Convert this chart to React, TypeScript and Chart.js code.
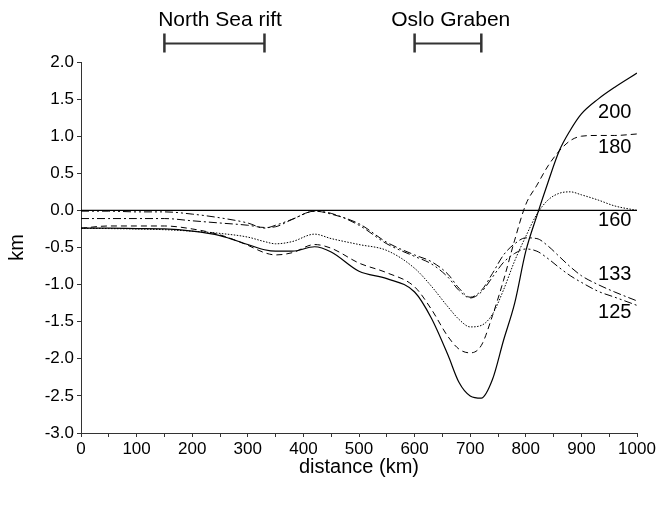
import React, { useEffect, useRef } from "react";
import { Chart, registerables } from "chart.js";

Chart.register(...registerables);

const distanceKm = [0, 50, 100, 150, 200, 250, 300, 330, 350, 380, 420, 450, 500, 550, 600, 630, 660, 680, 700, 720, 740, 760, 780, 800, 820, 840, 860, 880, 900, 930, 960, 1000];

const s200 = [-0.24, -0.24, -0.245, -0.25, -0.28, -0.34, -0.46, -0.53, -0.55, -0.55, -0.49, -0.56, -0.82, -0.92, -1.1, -1.45, -1.95, -2.32, -2.5, -2.53, -2.28, -1.75, -1.25, -0.55, -0.07, 0.38, 0.8, 1.08, 1.3, 1.5, 1.66, 1.85];
const s180 = [-0.24, -0.21, -0.21, -0.21, -0.25, -0.33, -0.47, -0.57, -0.6, -0.57, -0.46, -0.51, -0.71, -0.84, -1.03, -1.33, -1.7, -1.87, -1.92, -1.82, -1.42, -0.94, -0.4, 0.08, 0.34, 0.6, 0.8, 0.94, 1.0, 1.01, 1.01, 1.03];
const s160 = [-0.24, -0.245, -0.25, -0.26, -0.28, -0.31, -0.36, -0.42, -0.45, -0.42, -0.32, -0.38, -0.46, -0.54, -0.78, -1.02, -1.3, -1.47, -1.57, -1.55, -1.4, -1.07, -0.68, -0.35, -0.05, 0.14, 0.23, 0.25, 0.21, 0.14, 0.06, 0.0];
const s133 = [-0.11, -0.11, -0.11, -0.11, -0.14, -0.17, -0.2, -0.23, -0.22, -0.12, -0.01, -0.05, -0.18, -0.43, -0.6, -0.69, -0.86, -1.05, -1.17, -1.08, -0.85, -0.6, -0.45, -0.37, -0.38, -0.48, -0.62, -0.76, -0.88, -1.0, -1.1, -1.22];
const s125 = [-0.01, -0.01, -0.02, -0.02, -0.05, -0.1, -0.17, -0.24, -0.2, -0.12, -0.01, -0.04, -0.2, -0.45, -0.62, -0.72, -0.9, -1.08, -1.18, -1.1, -0.9, -0.7, -0.58, -0.52, -0.55, -0.65, -0.77, -0.88, -0.97, -1.09, -1.17, -1.28];

const seriesNames = ["200", "180", "160", "133", "125"];
const seriesLabelY = [1.32, 0.85, -0.13, -0.86, -1.38];
const seriesLabelX = 990;

const regionNames = ["North Sea rift", "Oslo Graben"];
const regionStart = [150, 600];
const regionEnd = [330, 720];
const regionLabelX = [250, 665];

const xTickLabels = ["0", "100", "200", "300", "400", "500", "600", "700", "800", "900", "1000"];

const FONT = "'Liberation Sans', Arial, sans-serif";

const annotationPlugin = {
  id: "annot",
  afterDraw(chart: any) {
    const ctx = chart.ctx;
    const xs = chart.scales.x;
    const ys = chart.scales.y;
    ctx.save();
    // right-side series labels
    ctx.fillStyle = "#000";
    ctx.font = `20px ${FONT}`;
    ctx.textAlign = "right";
    ctx.textBaseline = "middle";
    seriesNames.forEach((n, i) => {
      ctx.fillText(n, xs.getPixelForValue(seriesLabelX), ys.getPixelForValue(seriesLabelY[i]));
    });
    // region brackets
    ctx.strokeStyle = "#333";
    regionNames.forEach((n, i) => {
      const x1 = xs.getPixelForValue(regionStart[i]);
      const x2 = xs.getPixelForValue(regionEnd[i]);
      const y = 43.5;
      ctx.lineWidth = 2;
      ctx.beginPath();
      ctx.moveTo(x1, y);
      ctx.lineTo(x2, y);
      ctx.stroke();
      ctx.lineWidth = 2.5;
      ctx.beginPath();
      ctx.moveTo(x1, 33.5);
      ctx.lineTo(x1, 52.5);
      ctx.moveTo(x2, 33.5);
      ctx.lineTo(x2, 52.5);
      ctx.stroke();
      ctx.fillStyle = "#000";
      ctx.font = `21px ${FONT}`;
      ctx.textAlign = "center";
      ctx.textBaseline = "middle";
      ctx.fillText(n, xs.getPixelForValue(regionLabelX[i]), 20.5);
    });
    ctx.restore();
  },
};

export default function App() {
  const ref = useRef<HTMLCanvasElement | null>(null);
  useEffect(() => {
    document.body.style.margin = "0";
    const mk = (vals: number[]) => distanceKm.map((x, i) => ({ x, y: vals[i] }));
    const base = {
      borderColor: "#000",
      borderWidth: 1,
      pointRadius: 0,
      fill: false,
      cubicInterpolationMode: "monotone" as const,
    };
    const chart = new Chart(ref.current!, {
      type: "line",
      data: {
        datasets: [
          { ...base, label: "zero", data: [{ x: 0, y: 0 }, { x: 1000, y: 0 }], borderWidth: 1.2 },
          { ...base, label: "200", data: mk(s200), borderWidth: 1.2 },
          { ...base, label: "180", data: mk(s180), borderDash: [6, 4] },
          { ...base, label: "160", data: mk(s160), borderDash: [1.5, 1.5] },
          { ...base, label: "133", data: mk(s133), borderDash: [8, 3, 2, 3] },
          { ...base, label: "125", data: mk(s125), borderDash: [8, 3, 2, 3, 2, 3] },
        ],
      },
      options: {
        animation: false,
        responsive: false,
        maintainAspectRatio: false,
        layout: { padding: { top: 62, right: 24, left: 0, bottom: 0 } },
        plugins: { legend: { display: false }, tooltip: { enabled: false } },
        scales: {
          x: {
            type: "linear",
            min: 0,
            max: 1000,
            afterFit: (s: any) => { s.height = 72; },
            ticks: {
              stepSize: 50,
              autoSkip: false,
              maxRotation: 0,
              padding: 2,
              color: "#000",
              font: { family: FONT, size: 17 },
              callback: (v: any) => (Number(v) % 100 === 0 ? xTickLabels[Number(v) / 100] : ""),
            },
            grid: { drawOnChartArea: false, drawTicks: true, tickLength: 4, color: "#333" },
            border: { display: true, color: "#333" },
            title: {
              display: true,
              text: "distance (km)",
              color: "#000",
              font: { family: FONT, size: 20 },
              padding: { top: 0, bottom: 26 },
            },
          },
          y: {
            min: -3,
            max: 2,
            afterFit: (s: any) => { s.width = 81; },
            ticks: {
              stepSize: 0.5,
              padding: 3,
              color: "#000",
              font: { family: FONT, size: 17 },
              callback: (v: any) => Number(v).toFixed(1),
            },
            grid: { drawOnChartArea: false, drawTicks: true, tickLength: 4, color: "#333" },
            border: { display: true, color: "#333" },
            title: {
              display: true,
              text: "km",
              color: "#000",
              font: { family: FONT, size: 20 },
              padding: { top: 5, bottom: 0 },
            },
          },
        },
      },
      plugins: [annotationPlugin],
    });
    return () => chart.destroy();
  }, []);
  return (
    <div style={{ width: 661, height: 505 }}>
      <canvas ref={ref} width={661} height={505} style={{ display: "block" }} />
    </div>
  );
}
